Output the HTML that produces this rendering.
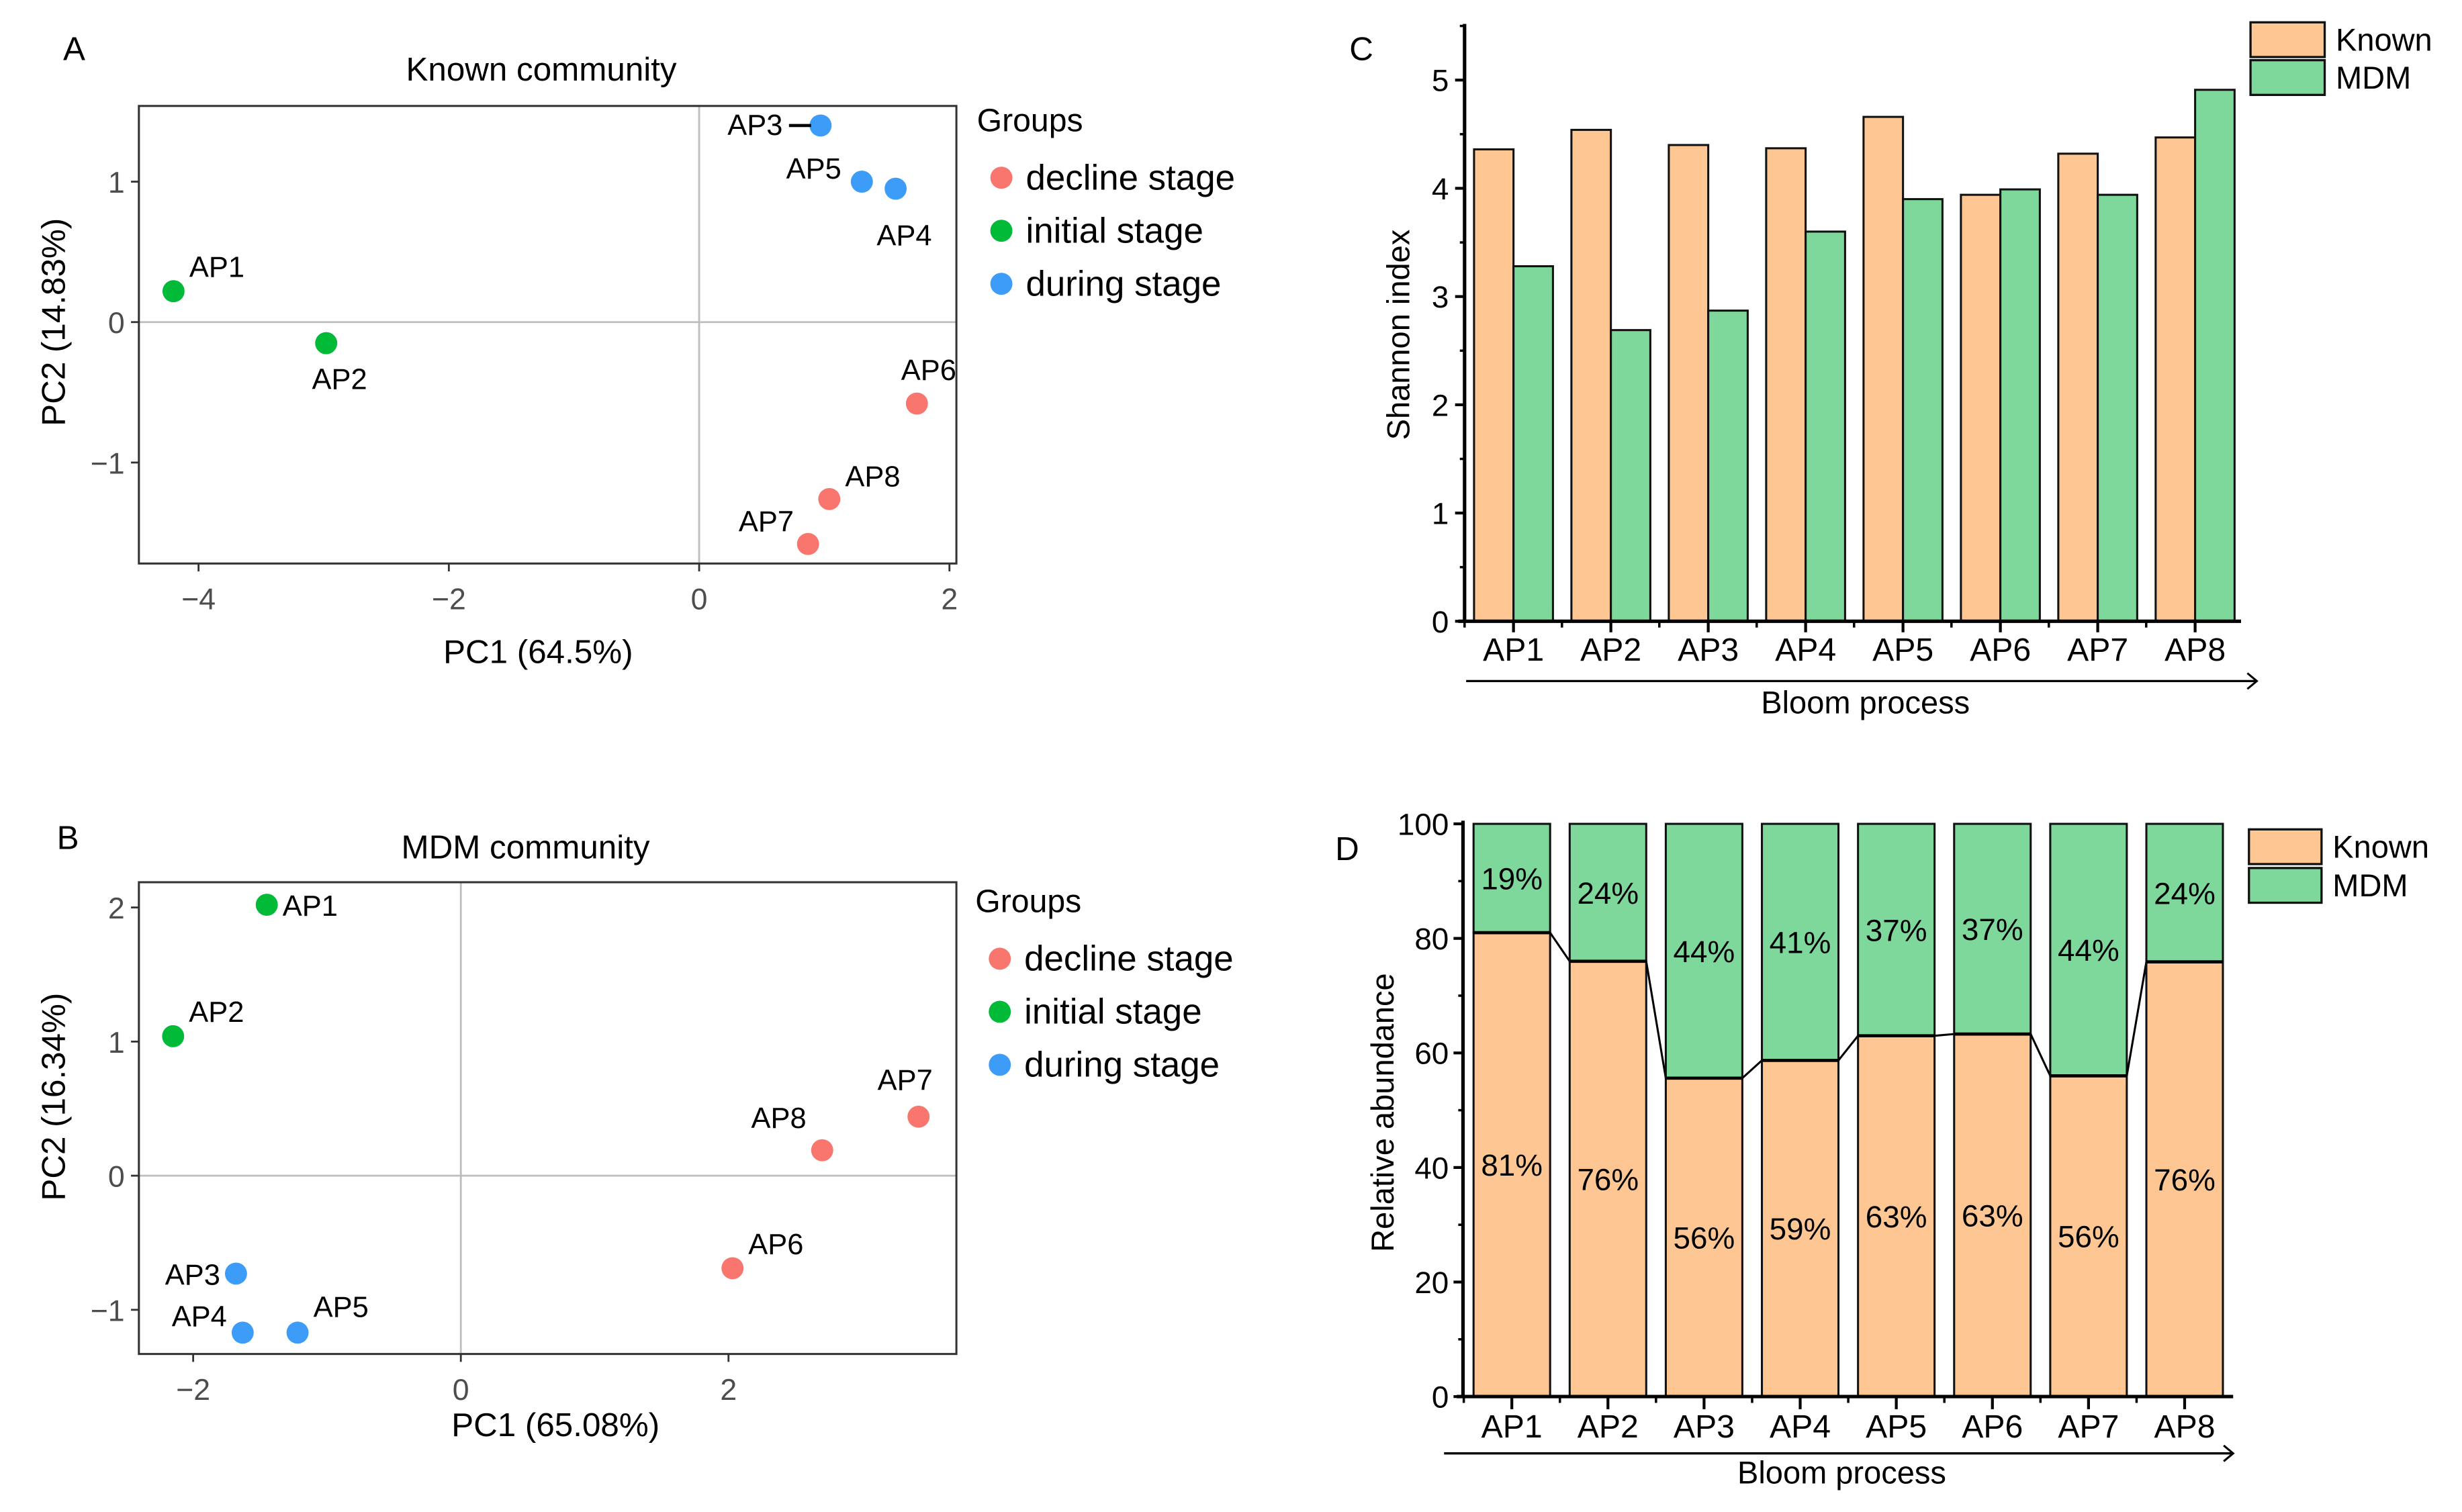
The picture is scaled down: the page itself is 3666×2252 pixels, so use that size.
<!DOCTYPE html>
<html><head><meta charset="utf-8"><style>
html,body{margin:0;padding:0;background:#fff;}
svg{display:block;font-family:"Liberation Sans",Arial,sans-serif;}
</style></head><body>
<svg id="fig" width="3666" height="2252" viewBox="0 0 1560 958" xmlns="http://www.w3.org/2000/svg"></svg>
<script>
// ---- Panel A data (Known community PCA) ----
const aLabels = ['AP1','AP2','AP3','AP4','AP5','AP6','AP7','AP8'];
const aPC1 = [-4.2,-2.98,0.97,1.57,1.3,1.74,0.87,1.04];
const aPC2 = [0.22,-0.15,1.4,0.95,1.0,-0.58,-1.58,-1.26];
const aGroup = ['initial','initial','during','during','during','decline','decline','decline'];
const aXTicks = [-4,-2,0,2];
const aYTicks = [-1,0,1];
// ---- Panel B data (MDM community PCA) ----
const bLabels = ['AP1','AP2','AP3','AP4','AP5','AP6','AP7','AP8'];
const bPC1 = [-1.45,-2.15,-1.68,-1.63,-1.22,2.03,3.42,2.7];
const bPC2 = [2.02,1.04,-0.73,-1.17,-1.17,-0.69,0.44,0.19];
const bGroup = ['initial','initial','during','during','during','decline','decline','decline'];
const bXTicks = [-2,0,2];
const bYTicks = [-1,0,1,2];
// ---- Panel C data (Shannon index) ----
const cCats = ['AP1','AP2','AP3','AP4','AP5','AP6','AP7','AP8'];
const cKnown = [4.36,4.54,4.40,4.37,4.66,3.94,4.32,4.47];
const cMDM = [3.28,2.69,2.87,3.60,3.90,3.99,3.94,4.91];
const cYTicks = [0,1,2,3,4,5];
// ---- Panel D data (Relative abundance) ----
const dCats = ['AP1','AP2','AP3','AP4','AP5','AP6','AP7','AP8'];
const dKnown = [81,76,55.6,58.7,63,63.3,56,75.9];
const dKnownLbl = ['81%','76%','56%','59%','63%','63%','56%','76%'];
const dMDMLbl = ['19%','24%','44%','41%','37%','37%','44%','24%'];
const dYTicks = [0,20,40,60,80,100];

const NS='http://www.w3.org/2000/svg';
const svg=document.getElementById('fig');
function el(tag,attrs,parent,text){const e=document.createElementNS(NS,tag);for(const k in attrs)e.setAttribute(k,attrs[k]);if(text!==undefined)e.textContent=text;(parent||svg).appendChild(e);return e;}
const colors={decline:'#F8766D',initial:'#00BA38',during:'#3d9cf7'};
const ORANGE='#FDC692', GREEN='#7ED89B';

// ================= PCA panels =================
function pca(opt){
  const g=el('g',{});
  
  
  const X=v=>opt.x0+v*opt.xs, Y=v=>opt.y0-v*opt.ys;
  let t=el('text',{x:opt.letterX,y:opt.letterY,'font-size':21},g,opt.letter);
  
  t=el('text',{x:opt.titleX,y:opt.titleY,'font-size':21,'text-anchor':'middle'},g,opt.title);
  
  el('line',{x1:opt.box[0],x2:opt.box[2],y1:Y(0),y2:Y(0),stroke:'#bdbdbd','stroke-width':1.2},g);
  el('line',{x1:X(0),x2:X(0),y1:opt.box[1],y2:opt.box[3],stroke:'#bdbdbd','stroke-width':1.2},g);
  const r=el('rect',{x:opt.box[0],y:opt.box[1],width:opt.box[2]-opt.box[0],height:opt.box[3]-opt.box[1],fill:'none',stroke:'#333','stroke-width':1.3},g);
  
  opt.xt.forEach(v=>{el('line',{x1:X(v),x2:X(v),y1:opt.box[3],y2:opt.box[3]+5,stroke:'#333','stroke-width':1.2},g);
    const tt=el('text',{x:X(v),y:opt.box[3]+29,'font-size':19,fill:'#4d4d4d','text-anchor':'middle'},g,v<0?'\u2212'+(-v):String(v));
    });
  opt.yt.forEach(v=>{el('line',{x1:opt.box[0]-5,x2:opt.box[0],y1:Y(v),y2:Y(v),stroke:'#333','stroke-width':1.2},g);
    const tt=el('text',{x:opt.box[0]-9,y:Y(v)+7,'font-size':19,fill:'#4d4d4d','text-anchor':'end'},g,v<0?'\u2212'+(-v):String(v));
    });
  t=el('text',{x:opt.xlabX,y:opt.xlabY,'font-size':21,'text-anchor':'middle'},g,opt.xlab);
  
  t=el('text',{x:0,y:0,'font-size':21,'text-anchor':'middle',transform:`translate(${opt.ylabX},${opt.ylabY}) rotate(-90)`},g,opt.ylab);
  
  opt.px.forEach((v,i)=>{
    const c=el('ellipse',{cx:X(v),cy:Y(opt.py[i]),rx:7,ry:7,fill:colors[opt.grp[i]]},g);
    
    const o=opt.off[i];
    const l=el('text',{x:X(v)+o[0],y:Y(opt.py[i])+o[1],'font-size':18.5,'text-anchor':o[2]||'start'},g,opt.lbl[i]);
    
    if(o[3]) el('line',{x1:X(v)-20,x2:X(v)-6,y1:Y(opt.py[i]),y2:Y(opt.py[i]),stroke:'#000','stroke-width':2},g);
  });
  t=el('text',{x:opt.legX,y:opt.legY,'font-size':20.5},g,'Groups');
  
  [['decline','decline stage'],['initial','initial stage'],['during','during stage']].forEach((e,i)=>{
    const yy=opt.legY+29.5+i*33.6;
    const lg=el('g',{},g);
    el('ellipse',{cx:opt.legX+15.5,cy:yy,rx:7,ry:7,fill:colors[e[0]]},lg);
    el('text',{x:opt.legX+31,y:yy+7.5,'font-size':22.5},lg,e[1]);
  });
}
pca({name:'panel-a-known-pca',letter:'A',letterX:40,letterY:38,title:'Known community',titleX:343,titleY:51,
  box:[88,67,606,357],x0:443,xs:79.3,y0:204,ys:89,xt:aXTicks,yt:aYTicks,
  xlab:'PC1 (64.5%)',xlabX:341,xlabY:420,ylab:'PC2 (14.83%)',ylabX:41,ylabY:204,
  px:aPC1,py:aPC2,grp:aGroup,lbl:aLabels,
  off:[[10,-9],[-9,29],[-24,6,'end',true],[-12,36],[-13,-2,'end'],[-10,-15,'start'],[-9,-8,'end'],[10,-8]],
  legX:619,legY:83});
pca({name:'panel-b-mdm-pca',letter:'B',letterX:36,letterY:538,title:'MDM community',titleX:333,titleY:544,
  box:[88,559,606,858],x0:292,xs:84.8,y0:745,ys:85,xt:bXTicks,yt:bYTicks,
  xlab:'PC1 (65.08%)',xlabX:352,xlabY:910,ylab:'PC2 (16.34%)',ylabX:41,ylabY:695,
  px:bPC1,py:bPC2,grp:bGroup,lbl:bLabels,
  off:[[10,7],[10,-9],[-10,7,'end'],[-10,-4,'end'],[10,-10],[10,-9],[-26,-17],[-45,-14]],
  legX:618,legY:578});

// ================= Panel C =================
(function(){
  const g=el('g',{});
  const ax=928, y0=393.6, ys=68.6, left=934, step=61.7, bw=25;
  const Y=v=>y0-v*ys;
  let t=el('text',{x:855,y:38,'font-size':21},g,'C');
  cCats.forEach((c,i)=>{
    const x=left+i*step;
    let b=el('rect',{x:x,y:Y(cKnown[i]),width:bw,height:cKnown[i]*ys,fill:ORANGE,stroke:'#111','stroke-width':1.3},g);
    
    b=el('rect',{x:x+bw,y:Y(cMDM[i]),width:bw,height:cMDM[i]*ys,fill:GREEN,stroke:'#111','stroke-width':1.3},g);
    
    el('line',{x1:x+bw,x2:x+bw,y1:y0,y2:y0+7,stroke:'#000','stroke-width':1.8},g);
    el('line',{x1:x-6,x2:x-6,y1:y0,y2:y0+4,stroke:'#000','stroke-width':1.5},g);
    t=el('text',{x:x+bw,y:y0+25,'font-size':20.5,'text-anchor':'middle'},g,c);
  });
  el('line',{x1:ax-4,x2:1420,y1:y0,y2:y0,stroke:'#000','stroke-width':2.2},g);
  el('line',{x1:ax,x2:ax,y1:15,y2:y0,stroke:'#000','stroke-width':2.2},g);
  cYTicks.forEach(v=>{el('line',{x1:ax-6,x2:ax,y1:Y(v),y2:Y(v),stroke:'#000','stroke-width':1.8},g);
    el('line',{x1:ax-3,x2:ax,y1:Y(v+0.5),y2:Y(v+0.5),stroke:'#000','stroke-width':1.5},g);
    t=el('text',{x:ax-10,y:Y(v)+7,'font-size':19.5,'text-anchor':'end'},g,String(v));});
  t=el('text',{x:0,y:0,'font-size':20,'text-anchor':'middle',transform:'translate(893,212) rotate(-90)'},g,'Shannon index');
  el('line',{x1:929,x2:1430,y1:431.5,y2:431.5,stroke:'#000','stroke-width':1.4},g);
  el('path',{d:'M1424,426.5 L1430,431.5 L1424,436.5',fill:'none',stroke:'#000','stroke-width':1.3},g);
  t=el('text',{x:1182,y:452,'font-size':20,'text-anchor':'middle'},g,'Bloom process');
  [['Known',ORANGE,14],['MDM',GREEN,38]].forEach(e=>{const lg=el('g',{},g);
    el('rect',{x:1426,y:e[2],width:47,height:22,fill:e[1],stroke:'#111','stroke-width':1.4},lg);
    el('text',{x:1480,y:e[2]+18,'font-size':20},lg,e[0]);});
})();

// ================= Panel D =================
(function(){
  const g=el('g',{});
  const ax=927, y0=885, ys=3.63, left=933.7, step=60.9, bw=48.5;
  const Y=v=>y0-v*ys;
  let t=el('text',{x:846,y:545,'font-size':21},g,'D');
  dCats.forEach((c,i)=>{
    const x=left+i*step, k=dKnown[i];
    let b=el('rect',{x:x,y:Y(100),width:bw,height:(100-k)*ys,fill:GREEN,stroke:'#111','stroke-width':1.3},g);
    
    b=el('rect',{x:x,y:Y(k),width:bw,height:k*ys,fill:ORANGE,stroke:'#111','stroke-width':1.3},g);
    
    el('line',{x1:x,x2:x+bw,y1:Y(k),y2:Y(k),stroke:'#000','stroke-width':2},g);
    if(i<dCats.length-1) el('line',{x1:x+bw,x2:left+(i+1)*step,y1:Y(k),y2:Y(dKnown[i+1]),stroke:'#000','stroke-width':1.3},g);
    t=el('text',{x:x+bw/2,y:Y((100+k)/2)+7,'font-size':19.5,'text-anchor':'middle'},g,dMDMLbl[i]);
    t=el('text',{x:x+bw/2,y:Y(k/2)+7,'font-size':19.5,'text-anchor':'middle'},g,dKnownLbl[i]);
    el('line',{x1:x+bw/2,x2:x+bw/2,y1:y0,y2:y0+8,stroke:'#000','stroke-width':1.8},g);
    el('line',{x1:x-6.2,x2:x-6.2,y1:y0,y2:y0+4,stroke:'#000','stroke-width':1.5},g);
    t=el('text',{x:x+bw/2,y:y0+26,'font-size':20.5,'text-anchor':'middle'},g,c);
  });
  el('line',{x1:ax-4,x2:1415,y1:y0,y2:y0,stroke:'#000','stroke-width':2.2},g);
  el('line',{x1:ax,x2:ax,y1:520,y2:y0,stroke:'#000','stroke-width':2.2},g);
  dYTicks.forEach(v=>{el('line',{x1:ax-6,x2:ax,y1:Y(v),y2:Y(v),stroke:'#000','stroke-width':1.8},g);
    if(v<100) el('line',{x1:ax-3,x2:ax,y1:Y(v+10),y2:Y(v+10),stroke:'#000','stroke-width':1.5},g);
    t=el('text',{x:ax-9,y:Y(v)+7,'font-size':19.5,'text-anchor':'end'},g,String(v));});
  t=el('text',{x:0,y:0,'font-size':20,'text-anchor':'middle',transform:'translate(883,705) rotate(-90)'},g,'Relative abundance');
  el('line',{x1:915,x2:1415,y1:921,y2:921,stroke:'#000','stroke-width':1.4},g);
  el('path',{d:'M1409,916 L1415,921 L1409,926',fill:'none',stroke:'#000','stroke-width':1.3},g);
  t=el('text',{x:1167,y:940,'font-size':20,'text-anchor':'middle'},g,'Bloom process');
  [['Known',ORANGE,525.5],['MDM',GREEN,550]].forEach(e=>{const lg=el('g',{},g);
    el('rect',{x:1425,y:e[2],width:46,height:22,fill:e[1],stroke:'#111','stroke-width':1.4},lg);
    el('text',{x:1478,y:e[2]+18,'font-size':20},lg,e[0]);});
})();
</script>
</body></html>
